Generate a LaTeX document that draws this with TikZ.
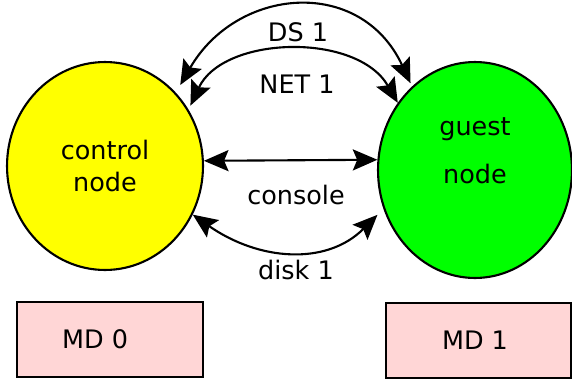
\documentclass[tikz,border=0pt]{standalone}
\usepackage{fontspec}
\setmainfont{DejaVu Sans}
\usetikzlibrary{arrows.meta,shapes,positioning,calc}
\definecolor{mdpink}{RGB}{255,214,214}
\definecolor{ctrlyellow}{RGB}{255,255,0}
\definecolor{guestgreen}{RGB}{0,255,0}

\begin{document}
\begin{tikzpicture}[x=0.02cm, y=0.02cm,
    txt/.style={font=\fontsize{14.5}{18.7}\selectfont},
    host/.style={draw, ellipse, line width=1.2pt, txt, align=center, inner sep=0pt},
    mdbox/.style={draw, line width=1.2pt, fill=mdpink, minimum width=3.72cm, minimum height=1.5cm, txt},
    link/.style={<->, >={Stealth[length=14pt,width=12pt,inset=2.5pt]}, line width=1.2pt}]
    \useasboundingbox (0,0) rectangle (572,-379);

    % the two hosts
    \node[host, fill=ctrlyellow, minimum width=3.92cm, minimum height=4.16cm] (ctrl) at (105,-166) {control\\node};
    \node[host, fill=guestgreen, minimum width=3.88cm, minimum height=4.32cm,
          label={[txt, align=center, yshift=11pt]center:{guest\\[8.5pt]node}}] (guest) at (475,-170) {};

    % metadevices
    \node[mdbox] (md0) at (110,-339.5) {MD 0\rule{17pt}{0pt}};
    \node[mdbox, minimum width=3.7cm] (md1) at (478.5,-340.5) {MD 1\rule{4pt}{0pt}};

    % links between the hosts
    \draw[link, shorten <=5pt, shorten >=2pt] (ctrl.46) to[out=60, in=115, looseness=1.32] (guest.127);
    \draw[link, shorten <=2.5pt] (ctrl.34) to[out=65, in=120, looseness=1.0] (guest.139);
    \draw[link] (ctrl.3.5) -- (guest.174);
    \draw[link, shorten >=4.8pt] (ctrl.-29) to[out=-35, in=-135, looseness=1.08] (guest.203);

    % link labels
    \node[txt] (ds) at (298,-32) {DS 1};
    \node[txt] (net) at (297,-84) {NET 1};
    \node[txt] (con) at (296,-195) {console};
    \node[txt] (disk) at (296,-270) {disk 1};
\end{tikzpicture}
\end{document}
